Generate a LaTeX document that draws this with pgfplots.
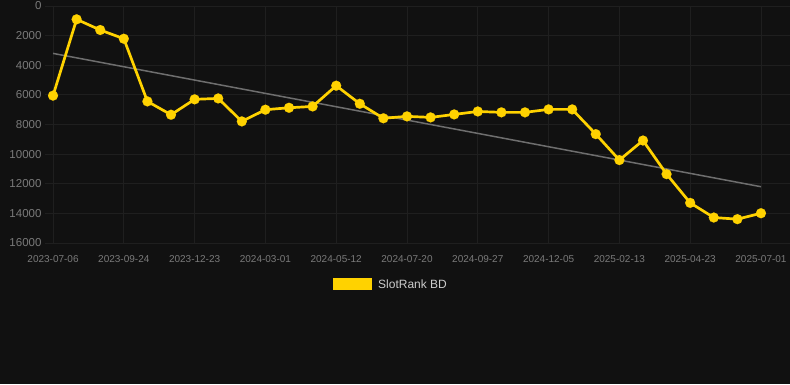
\documentclass[border=0pt]{standalone}
\usepackage{pgfplots}
\pgfplotsset{compat=1.18}
\usepackage{fontspec}
\setmainfont{Liberation Sans}
\definecolor{bg}{HTML}{111111}
\definecolor{gridc}{HTML}{1F1F1F}
\definecolor{tickc}{HTML}{7A7A7A}
\definecolor{gold}{HTML}{FFD200}
\definecolor{trend}{HTML}{6E6E6E}
\definecolor{legc}{HTML}{CCCCCC}
\begin{document}
\begin{tikzpicture}
\fill[bg] (0pt,0pt) rectangle (790pt,384pt);
\useasboundingbox (0pt,0pt) rectangle (790pt,384pt);
\begin{axis}[
  at={(45pt,141pt)}, anchor=south west,
  scale only axis, width=745pt, height=237pt,
  xmin=-0.34, xmax=31.23, ymin=0, ymax=16000, y dir=reverse,
  axis line style={draw=none},
  xtick={0,3,...,30},
  xticklabels={2023-07-06,2023-09-24,2023-12-23,2024-03-01,2024-05-12,2024-07-20,2024-09-27,2024-12-05,2025-02-13,2025-04-23,2025-07-01},
  ytick={0,2000,...,16000},
  grid=major, major grid style={gridc, line width=0.8pt},
  major tick length=0pt,
  tick style={draw=none},
  x tick label style={font=\fontsize{10}{12}\selectfont, text=tickc, yshift=-9pt},
  y tick label style={font=\fontsize{11.5}{13}\selectfont, text=tickc},
  scaled y ticks=false,
  /pgf/number format/assume math mode=true,
  yticklabel={\pgfmathprintnumber[fixed,precision=0,1000 sep={}]{\tick}},
  clip=false,
]
\addplot[trend, line width=1.5pt, forget plot] coordinates {(0,3200) (30,12200)};
\addplot[gold, line width=2.7pt, mark=*, mark size=5pt, mark options={solid, fill=gold, draw=gold, line width=0.1pt}] coordinates {
(0,6050)(1,900)(2,1620)(3,2210)(4,6440)(5,7340)(6,6300)(7,6240)(8,7790)(9,7000)
(10,6870)(11,6780)(12,5380)(13,6600)(14,7580)(15,7450)(16,7520)(17,7320)(18,7120)(19,7180)
(20,7180)(21,6980)(22,6980)(23,8650)(24,10400)(25,9080)(26,11350)(27,13290)(28,14280)(29,14390)
(30,13990)};
\end{axis}
\fill[gold] (333pt,94pt) rectangle (372pt,106pt);
\node[anchor=west, text=legc, font=\fontsize{12}{14}\selectfont, inner sep=0pt] at (378pt,100pt) {SlotRank BD};
\end{tikzpicture}
\end{document}
